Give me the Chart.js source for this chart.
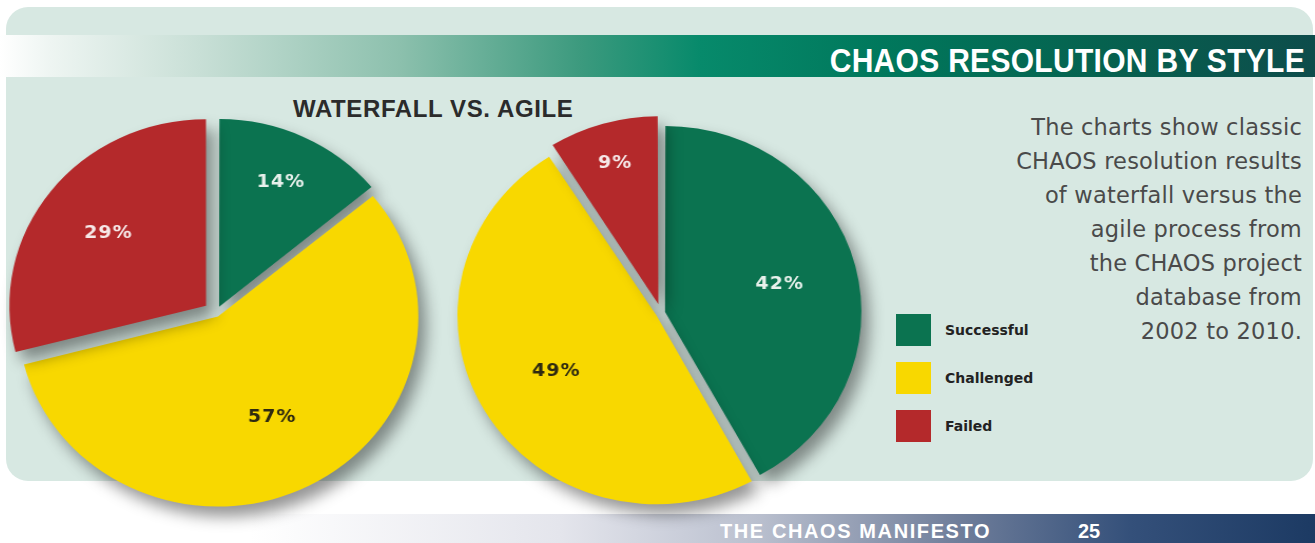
<!DOCTYPE html>
<html>
<head>
<meta charset="utf-8">
<script src="https://cdn.jsdelivr.net/npm/chart.js"></script>
<style>
  html, body { margin:0; padding:0; }
  body { width:1315px; height:543px; overflow:hidden; background:#ffffff; position:relative; font-family:"Liberation Sans", Arial, sans-serif; }
  #panel { position:absolute; left:6px; top:7px; width:1307px; height:474px; background:#d7e8e2; border-radius:22px; }
  #headbar { position:absolute; left:0; top:35px; width:1315px; height:42px;
    background:linear-gradient(90deg,#ffffff 0px,#eef5f2 50px,#c8dfd6 200px,#8cc0ad 400px,#3c9a7e 580px,#078a6b 700px,#00785c 880px,#06624f 1100px,#0d4c4b 1315px); }
  #headtitle { position:absolute; right:10px; top:47px; font:bold 30px/30px "Liberation Sans", Arial, sans-serif; letter-spacing:0.3px; color:#ffffff; white-space:nowrap; transform:scaleY(1.08); transform-origin:100% 100%; }
  #subtitle { position:absolute; left:293px; top:97px; font:bold 24px/24px "Liberation Sans", Arial, sans-serif; letter-spacing:0.6px; color:#2b2b2b; white-space:nowrap; }
  #desc { position:absolute; right:13px; top:110px; text-align:right; font:22.5px/34px "DejaVu Sans", sans-serif; letter-spacing:0.2px; color:#4a4a4a; white-space:nowrap; }
  #footbar { position:absolute; left:0; top:514px; width:1315px; height:29px;
    background:linear-gradient(90deg,#ffffff 250px,#e4e5ec 560px,#b9bfce 760px,#72809c 950px,#34507a 1130px,#1c3a63 1315px); }
  .foot { position:absolute; top:521px; font:bold 20px/20px "Liberation Sans", Arial, sans-serif; color:#ffffff; white-space:nowrap; }
  .pie { position:absolute; top:63px; width:500px; height:500px; transform:scaleX(1.055); transform-origin:50% 50%; }
  #legend { position:absolute; left:896px; top:314px; }
  .lg { position:absolute; left:0; width:200px; height:32px; }
  .sw { position:absolute; left:0; top:0; width:35px; height:32px; }
  .lt { position:absolute; left:49px; top:8px; font:bold 14px/16px "DejaVu Sans", sans-serif; color:#222; white-space:nowrap; }
</style>
</head>
<body>
<div id="panel"></div>
<div id="headbar"></div>
<div id="headtitle">CHAOS RESOLUTION BY STYLE</div>
<div id="subtitle">WATERFALL VS. AGILE</div>
<div id="desc"></div>
<div id="legend"></div>
<div id="footbar"></div>
<div class="foot" style="left:720px; letter-spacing:1.6px;">THE CHAOS MANIFESTO</div>
<div class="foot" style="left:1078px;">25</div>
<canvas id="waterfall" class="pie" width="500" height="500" style="left:-34px;"></canvas>
<canvas id="agile" class="pie" width="500" height="500" style="left:411px;"></canvas>
<script>
// ---- data ----
const categories = ['Successful', 'Challenged', 'Failed'];
const waterfallValues = [14, 57, 29];
const agileValues = [42, 49, 9];
const sliceColors = ['#0b7350', '#f8d800', '#b4292b'];
const labelColors = ['#e8f1ec', '#2e2a10', '#f6e8e8'];
const descLines = [
  'The charts show classic',
  'CHAOS resolution results',
  'of waterfall versus the',
  'agile process from',
  'the CHAOS project',
  'database from',
  '2002 to 2010.'
];

// description text
document.getElementById('desc').innerHTML = descLines.join('<br>');

// legend
const legend = document.getElementById('legend');
categories.forEach((c, i) => {
  const row = document.createElement('div');
  row.className = 'lg';
  row.style.top = (i * 48) + 'px';
  row.innerHTML = '<div class="sw" style="background:' + sliceColors[i] + '"></div><div class="lt">' + c + '</div>';
  legend.appendChild(row);
});

// ---- plugins ----
const shadowPlugin = {
  id: 'pieShadow',
  beforeDatasetsDraw(chart) {
    const c = chart.ctx;
    c.save();
    c.shadowColor = 'rgba(0,0,0,0.42)';
    c.shadowBlur = 15;
    c.shadowOffsetX = 7;
    c.shadowOffsetY = 10;
  },
  afterDatasetsDraw(chart) {
    chart.ctx.restore();
  }
};

const labelPlugin = {
  id: 'sliceLabels',
  afterDraw(chart, args, opts) {
    const ctx = chart.ctx;
    const meta = chart.getDatasetMeta(0);
    const values = chart.data.datasets[0].data;
    meta.data.forEach((arc, i) => {
      const p = arc.getProps(['x', 'y', 'startAngle', 'endAngle', 'outerRadius'], true);
      const mid = (p.startAngle + p.endAngle) / 2;
      const shift = (arc.options.offset || 0) / 4;
      const r = p.outerRadius * opts.radii[i] + shift;
      const x = p.x + Math.cos(mid) * r;
      const y = p.y + Math.sin(mid) * r;
      ctx.save();
      ctx.font = 'bold 18px "DejaVu Sans", sans-serif';
      if ('letterSpacing' in ctx) ctx.letterSpacing = '1px';
      ctx.fillStyle = labelColors[i];
      ctx.textAlign = 'center';
      ctx.textBaseline = 'middle';
      ctx.fillText(values[i] + '%', x, y);
      ctx.restore();
    });
  }
};

function makePie(id, values, offsets, radius, radii) {
  return new Chart(document.getElementById(id), {
    type: 'pie',
    data: {
      labels: categories,
      datasets: [{
        data: values,
        backgroundColor: sliceColors,
        borderWidth: 0,
        offset: offsets,
        hoverOffset: 0
      }]
    },
    options: {
      responsive: false,
      animation: false,
      events: [],
      radius: radius,
      layout: { padding: 0 },
      plugins: {
        legend: { display: false },
        tooltip: { enabled: false },
        sliceLabels: { radii: radii }
      }
    },
    plugins: [shadowPlugin, labelPlugin]
  });
}

makePie('waterfall', waterfallValues, [28, 16, 48], 186, [0.74, 0.61, 0.63]);
makePie('agile', agileValues, [16, 20, 36], 184, [0.61, 0.60, 0.80]);
</script>
</body>
</html>
